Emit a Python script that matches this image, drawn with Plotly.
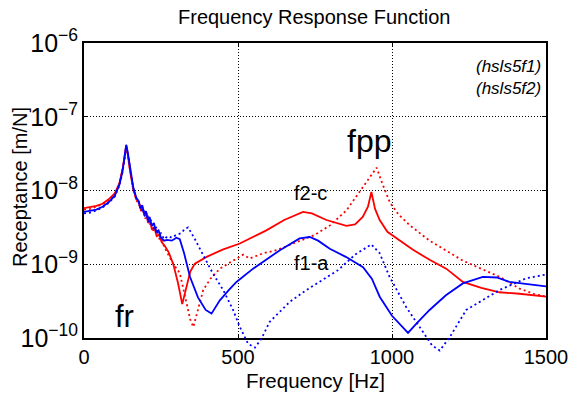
import plotly.graph_objects as go

# ---------------- data ----------------
freq_red_solid = [0, 20, 40, 60, 80, 100, 115, 125, 132, 137, 142, 150, 160, 170, 178, 185, 190, 196, 202, 208,
                  214, 220, 228, 236, 244, 252, 262, 275, 290, 305, 319, 330, 345, 360, 398, 450, 506, 592, 650,
                  711, 740, 787, 852, 880, 905, 922, 933, 945, 960, 985, 1014, 1067, 1122, 1176, 1230, 1290,
                  1349, 1414, 1500]
rec_red_solid = [5.75e-9, 5.89e-9, 6.17e-9, 6.61e-9, 7.59e-9, 9.12e-9, 1.26e-8, 1.91e-8, 2.82e-8, 4.07e-8,
                 3.16e-8, 1.78e-8, 1.05e-8, 7.59e-9, 7.08e-9, 5.50e-9, 6.03e-9, 4.57e-9, 5.01e-9, 3.63e-9,
                 3.98e-9, 3.02e-9, 3.16e-9, 2.40e-9, 2.51e-9, 2.00e-9, 1.78e-9, 1.45e-9, 1.00e-9, 5.62e-10,
                 2.88e-10, 4.47e-10, 7.94e-10, 1.02e-9, 1.26e-9, 1.58e-9, 1.91e-9, 2.88e-9, 3.98e-9,
                 5.13e-9, 4.90e-9, 3.98e-9, 3.31e-9, 3.47e-9, 4.37e-9, 6.03e-9, 9.55e-9, 5.62e-9, 3.98e-9,
                 2.75e-9, 2.24e-9, 1.58e-9, 1.15e-9, 8.71e-10, 5.75e-10, 4.79e-10, 4.17e-10, 3.98e-10,
                 3.63e-10]

freq_red_dot = [0, 20, 40, 60, 80, 100, 115, 125, 132, 137, 142, 150, 160, 170, 180, 187, 193, 199, 206, 212,
                218, 226, 234, 242, 250, 260, 275, 289, 311, 330, 345, 355, 370, 387, 410, 441, 484, 517, 538,
                582, 625, 700, 750, 800, 852, 906, 930, 950, 970, 993, 1020, 1057, 1122, 1230, 1349, 1414,
                1460, 1500]
rec_red_dot = [5.50e-9, 5.62e-9, 6.03e-9, 6.46e-9, 7.41e-9, 8.91e-9, 1.23e-8, 1.86e-8, 2.75e-8, 3.98e-8,
               3.02e-8, 1.70e-8, 1.02e-8, 7.41e-9, 6.31e-9, 5.01e-9, 5.50e-9, 4.17e-9, 4.57e-9, 3.39e-9,
               3.72e-9, 2.75e-9, 2.88e-9, 2.19e-9, 2.29e-9, 1.74e-9, 1.32e-9, 1.02e-9, 7.59e-10, 3.55e-10,
               1.78e-10, 1.41e-10, 2.51e-10, 4.47e-10, 6.31e-10, 8.71e-10, 1.12e-9, 1.35e-9, 1.20e-9,
               1.41e-9, 1.55e-9, 2.09e-9, 2.51e-9, 3.39e-9, 5.37e-9, 1.12e-8, 1.58e-8, 2.04e-8, 1.20e-8,
               6.92e-9, 4.79e-9, 3.39e-9, 2.09e-9, 1.12e-9, 6.76e-10, 4.68e-10, 3.98e-10, 3.63e-10]

freq_blue_solid = [0, 20, 40, 60, 80, 100, 115, 125, 132, 137, 142, 150, 160, 170, 177, 183, 189, 195, 201,
                   207, 213, 220, 227, 234, 242, 250, 260, 270, 285, 300, 311, 325, 344, 370, 395, 414, 441,
                   470, 495, 549, 592, 636, 700, 733, 760, 798, 850, 906, 935, 960, 1000, 1052, 1080, 1122,
                   1175, 1230, 1295, 1340, 1381, 1440, 1500]
rec_blue_solid = [5.13e-9, 5.25e-9, 5.50e-9, 6.03e-9, 6.92e-9, 8.51e-9, 1.20e-8, 1.82e-8, 2.82e-8, 4.17e-8,
                  3.31e-8, 1.91e-8, 1.10e-8, 7.94e-9, 7.24e-9, 5.75e-9, 6.31e-9, 4.79e-9, 5.25e-9, 3.98e-9,
                  4.37e-9, 3.31e-9, 3.63e-9, 2.75e-9, 2.88e-9, 2.29e-9, 2.09e-9, 2.14e-9, 2.09e-9, 2.29e-9,
                  2.19e-9, 1.41e-9, 6.76e-10, 3.55e-10, 2.40e-10, 2.14e-10, 3.24e-10, 4.47e-10, 5.75e-10,
                  8.71e-10, 1.15e-9, 1.55e-9, 2.24e-9, 2.34e-9, 2.09e-9, 1.62e-9, 1.26e-9, 9.12e-10,
                  6.31e-10, 3.63e-10, 2.00e-10, 1.17e-10, 1.58e-10, 2.40e-10, 3.80e-10, 5.50e-10, 6.76e-10,
                  6.61e-10, 5.75e-10, 5.37e-10, 5.01e-10]

freq_blue_dot = [0, 20, 40, 60, 80, 100, 115, 125, 132, 137, 142, 150, 160, 170, 180, 186, 192, 198, 204, 211,
                 218, 225, 233, 241, 250, 260, 272, 285, 300, 315, 328, 338, 360, 390, 419, 452, 484, 506, 533,
                 555, 576, 603, 636, 668, 722, 765, 825, 880, 933, 960, 992, 1046, 1090, 1130, 1155, 1175, 1187,
                 1241, 1349, 1436, 1500]
rec_blue_dot = [4.90e-9, 5.01e-9, 5.37e-9, 5.89e-9, 6.76e-9, 8.32e-9, 1.17e-8, 1.78e-8, 2.69e-8, 3.98e-8,
                3.16e-8, 1.82e-8, 1.07e-8, 7.76e-9, 6.61e-9, 5.25e-9, 5.75e-9, 4.37e-9, 5.01e-9, 3.63e-9,
                3.98e-9, 3.02e-9, 3.31e-9, 2.51e-9, 2.63e-9, 2.19e-9, 2.40e-9, 2.29e-9, 2.51e-9, 2.63e-9,
                3.02e-9, 3.16e-9, 2.19e-9, 1.26e-9, 7.41e-10, 4.47e-10, 2.40e-10, 1.41e-10, 8.32e-11,
                7.41e-11, 9.77e-11, 1.66e-10, 2.24e-10, 3.09e-10, 4.47e-10, 5.75e-10, 8.32e-10, 1.35e-9,
                1.86e-9, 1.41e-9, 6.76e-10, 2.63e-10, 1.41e-10, 7.94e-11, 6.76e-11, 8.91e-11, 1.02e-10,
                2.40e-10, 4.47e-10, 6.46e-10, 7.24e-10]

x_ticks = [0, 500, 1000, 1500]
title_text = "Frequency Response Function"
x_title = "Frequency [Hz]"
y_title = "Receptance [m/N]"
legend_texts = ["(hsls5f1)", "(hsls5f2)"]

# ---------------- layout geometry ----------------
W, H = 571, 397
L, R, T, B = 84, 25, 43, 42
PW, PH = W - L - R, H - T - B
AXIS_BOTTOM_PX = 338
DECADE_PX = (AXIS_BOTTOM_PX - T) / 4.0
y_dom_low = (H - B - AXIS_BOTTOM_PX) / PH
y2_low = -10 - (H - B - AXIS_BOTTOM_PX) / DECADE_PX


def px(xp):
    return (xp - L) / PW


def py(yp):
    return (H - B - yp) / PH


FONT = "Liberation Sans, Arial, Helvetica, sans-serif"
RED = "#ff0000"
BLUE = "#0000ff"

fig = go.Figure()
# empty trace so that the framed main x/y subplot (axes, grid, ticks) is drawn
fig.add_trace(go.Scatter(x=[None], y=[None], xaxis="x", yaxis="y", mode="lines",
                         showlegend=False, hoverinfo="skip"))
series = [
    (freq_red_dot, rec_red_dot, RED, "2px,3px", 1.8),
    (freq_red_solid, rec_red_solid, RED, "solid", 1.8),
    (freq_blue_dot, rec_blue_dot, BLUE, "2px,3px", 1.8),
    (freq_blue_solid, rec_blue_solid, BLUE, "solid", 1.8),
]
for fx, fy, col, dash, w in series:
    fig.add_trace(go.Scatter(x=fx, y=fy, mode="lines", xaxis="x2", yaxis="y2",
                             line=dict(color=col, dash=dash, width=w), showlegend=False,
                             hoverinfo="skip"))

axis_common = dict(showline=True, linecolor="black", linewidth=2, mirror="ticks",
                   ticks="inside", ticklen=4, tickcolor="black", tickwidth=1,
                   showgrid=True, gridcolor="black", griddash="1px,2px", gridwidth=1,
                   zeroline=False, automargin=False,
                   tickfont=dict(family=FONT, size=20, color="black"))

fig.update_layout(
    width=W, height=H,
    margin=dict(l=L, r=R, t=T, b=B, pad=0, autoexpand=False),
    paper_bgcolor="white", plot_bgcolor="rgba(0,0,0,0)",
    showlegend=False,
    xaxis=dict(range=[0, 1500], tickvals=x_ticks, anchor="y", domain=[0, 1], **axis_common),
    yaxis=dict(type="log", range=[-10, -6], dtick=1, exponentformat="power", showexponent="all",
               anchor="x", domain=[y_dom_low, 1], **axis_common),
    xaxis2=dict(range=[0, 1500], anchor="y2", domain=[0, 1], visible=False, automargin=False),
    yaxis2=dict(type="log", range=[y2_low, -6], anchor="x2", domain=[0, 1], visible=False,
                automargin=False),
)

annots = [
    dict(text=title_text, x=px(313.5), y=py(17.2), xanchor="center", size=20),
    dict(text=x_title, x=px(315.5), y=py(380.5), xanchor="center", size=20.5),
    dict(text="fr", x=px(114), y=py(316), xanchor="left", size=31),
    dict(text="fpp", x=px(346), y=py(140.5), xanchor="left", size=32),
    dict(text="f2-c", x=px(292.5), y=py(193), xanchor="left", size=20),
    dict(text="f1-a", x=px(292.5), y=py(263), xanchor="left", size=20),
    dict(text="<i>" + legend_texts[0] + "</i>", x=px(542), y=py(67), xanchor="right", size=17),
    dict(text="<i>" + legend_texts[1] + "</i>", x=px(542), y=py(88.5), xanchor="right", size=17),
]
for a in annots:
    fig.add_annotation(text=a["text"], x=a["x"], y=a["y"], xref="paper", yref="paper",
                       xanchor=a["xanchor"], yanchor="middle", showarrow=False,
                       font=dict(family=FONT, size=a["size"], color="black"), borderpad=0)

fig.add_annotation(text=y_title, x=px(20), y=py(187), xref="paper", yref="paper",
                   xanchor="center", yanchor="middle", textangle=-90, showarrow=False,
                   font=dict(family=FONT, size=20, color="black"), borderpad=0)

fig.write_html("out.html", config={"displayModeBar": False},
               post_script="document.body.style.margin='0';document.body.style.padding='0';")
